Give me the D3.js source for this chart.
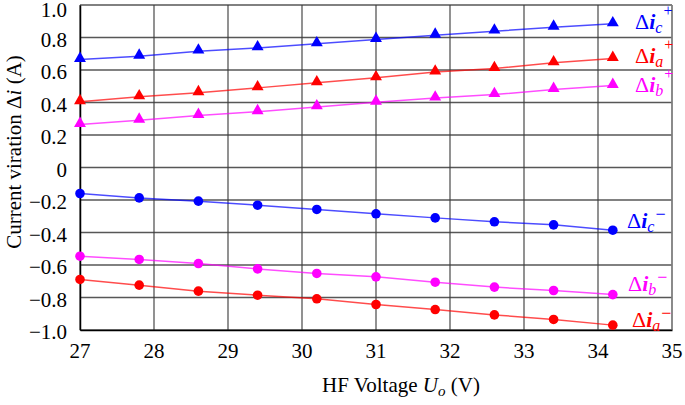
<!DOCTYPE html>
<html><head><meta charset="utf-8">
<script src="https://cdn.jsdelivr.net/npm/d3@7"></script>
<style>#c, #c text, #c tspan { font-family: 'Liberation Serif' !important; }</style>
</head><body style="margin:0;background:#fff"><svg id="c" width="685" height="405"></svg>
<script>
const voltage = [27, 27.8, 28.6, 29.4, 30.2, 31.0, 31.8, 32.6, 33.4, 34.2];
const icPlus  = [0.665, 0.685, 0.716, 0.736, 0.761, 0.788, 0.814, 0.839, 0.863, 0.884];
const iaPlus  = [0.405, 0.435, 0.46, 0.49, 0.521, 0.552, 0.587, 0.609, 0.644, 0.671];
const ibPlus  = [0.265, 0.291, 0.32, 0.343, 0.373, 0.402, 0.427, 0.449, 0.48, 0.505];
const icMinus = [-0.16, -0.187, -0.207, -0.232, -0.258, -0.285, -0.31, -0.334, -0.353, -0.386];
const ibMinus = [-0.546, -0.566, -0.591, -0.624, -0.652, -0.673, -0.706, -0.736, -0.757, -0.782];
const iaMinus = [-0.689, -0.724, -0.761, -0.786, -0.808, -0.843, -0.874, -0.907, -0.935, -0.97];
const xTicks = [27, 28, 29, 30, 31, 32, 33, 34, 35];
const yTicks = [1.0, 0.8, 0.6, 0.4, 0.2, 0, -0.2, -0.4, -0.6, -0.8, -1.0];
const yTickLabels = ["1.0","0.8","0.6","0.4","0.2","0","\u22120.2","\u22120.4","\u22120.6","\u22120.8","\u22121.0"];

const series = [
  {vals: icPlus,  color: "#0000ff", marker: "tri",    sub: "c", sup: "+"},
  {vals: iaPlus,  color: "#ff0000", marker: "tri",    sub: "a", sup: "+"},
  {vals: ibPlus,  color: "#ff00ff", marker: "tri",    sub: "b", sup: "+"},
  {vals: icMinus, color: "#0000ff", marker: "circle", sub: "c", sup: "\u2212"},
  {vals: ibMinus, color: "#ff00ff", marker: "circle", sub: "b", sup: "\u2212"},
  {vals: iaMinus, color: "#ff0000", marker: "circle", sub: "a", sup: "\u2212"}
];

const FONT = "'Liberation Serif'";
const svg = d3.select("#c");
const L = 80, R = 672, T = 5, B = 330;
const x = d3.scaleLinear().domain([27, 35]).range([L, R]);
const y = d3.scaleLinear().domain([-1, 1]).range([B, T]);

// grid
const g = svg.append("g");
g.selectAll(".vg").data(xTicks).join("line")
  .attr("x1", d => x(d)).attr("x2", d => x(d)).attr("y1", T).attr("y2", B)
  .attr("stroke", "#3a3a3a").attr("stroke-width", 1.3).attr("stroke-opacity", 0.85);
g.selectAll(".hg").data(yTicks).join("line")
  .attr("x1", L).attr("x2", R).attr("y1", d => y(d)).attr("y2", d => y(d))
  .attr("stroke", "#3a3a3a").attr("stroke-width", 1.3).attr("stroke-opacity", 0.85);
svg.append("line").attr("x1", R).attr("x2", R).attr("y1", T).attr("y2", B).attr("stroke", "#888").attr("stroke-width", 1.5);

// axes
const xAxis = d3.axisBottom(x).tickValues(xTicks).tickSize(0).tickFormat("");
const yAxis = d3.axisLeft(y).tickValues(yTicks).tickSize(0).tickFormat("");
const gx = svg.append("g").attr("transform", `translate(0,${B})`).call(xAxis);
gx.select(".domain").attr("stroke", "#000").attr("stroke-width", 1.5);
const gy = svg.append("g").attr("transform", `translate(${L},0)`).call(yAxis);
gy.select(".domain").attr("stroke", "#000").attr("stroke-width", 1.5);

svg.selectAll(null).data(xTicks).join("text")
  .attr("font-size", 21).attr("fill", "#000")
  .attr("text-anchor", "middle").attr("x", d => x(d)).attr("y", B + 28).text(d => d);
svg.selectAll(null).data(yTicks).join("text")
  .attr("font-size", 21).attr("fill", "#000")
  .attr("text-anchor", "end").attr("x", L - 13)
  .attr("y", d => y(d) + (d === 1 ? 11.5 : 9)).text((d, i) => yTickLabels[i]);

// series
const line = d3.line().x((d, i) => x(voltage[i])).y(d => y(d));
const tri = d3.symbol().type(d3.symbolTriangle).size(62);
series.forEach(s => {
  svg.append("path").datum(s.vals).attr("d", line).attr("fill", "none")
    .attr("stroke", s.color).attr("stroke-width", 1.5).attr("stroke-opacity", 0.7);
  if (s.marker === "tri") {
    svg.selectAll(null).data(s.vals).join("path")
      .attr("transform", (d, i) => `translate(${x(voltage[i])},${y(d) - 1})`)
      .attr("d", tri).attr("fill", s.color);
  } else {
    svg.selectAll(null).data(s.vals).join("circle")
      .attr("cx", (d, i) => x(voltage[i])).attr("cy", d => y(d)).attr("r", 4.8).attr("fill", s.color);
  }
});

// labels
const labelPos = [[635, 29], [635, 63], [635, 92], [627, 228], [628, 291], [632, 327]];
series.forEach((s, k) => {
  const t = svg.append("text").attr("x", labelPos[k][0]).attr("y", labelPos[k][1])
    .attr("fill", s.color).attr("font-size", 22);
  t.append("tspan").text("\u0394");
  t.append("tspan").attr("font-style", "italic").attr("font-weight", "bold").text("i");
  t.append("tspan").attr("font-style", "italic").attr("font-size", 16).attr("dy", 4).text(s.sub);
  if (s.sup === "+") t.append("tspan").attr("font-size", 16).attr("dy", -17).attr("dx", 1).text(s.sup);
  else t.append("tspan").attr("font-size", 18).attr("dy", -12).attr("dx", 1).text(s.sup);
});

// axis titles
const xt = svg.append("text").attr("x", 401).attr("y", 392).attr("text-anchor", "middle").attr("font-size", 21).attr("fill", "#000");
xt.append("tspan").text("HF Voltage ");
xt.append("tspan").attr("font-style", "italic").text("U");
xt.append("tspan").attr("font-style", "italic").attr("font-size", 15).attr("dy", 4).text("o");
xt.append("tspan").attr("dy", -4).text(" (V)");

const yt = svg.append("text").attr("transform", "translate(21,152) rotate(-90)").attr("text-anchor", "middle").attr("font-size", 21).attr("fill", "#000");
yt.append("tspan").text("Current viration \u0394");
yt.append("tspan").attr("font-style", "italic").text("i");
yt.append("tspan").text(" (A)");

svg.selectAll("text, tspan").each(function () { this.style.setProperty("font-family", FONT, "important"); });
</script></body></html>
